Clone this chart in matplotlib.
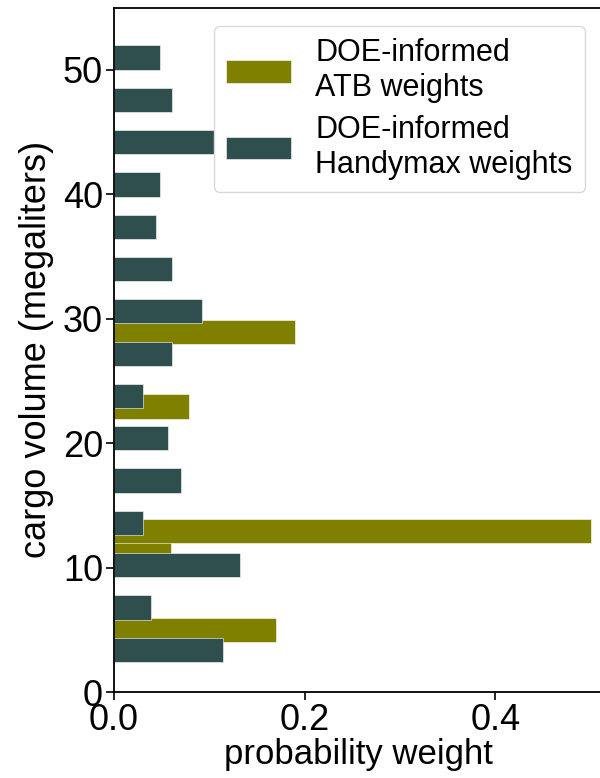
import matplotlib.pyplot as plt

plt.rcParams['font.family'] = ['Liberation Sans', 'DejaVu Sans']

# Handymax weights, one bin every 3.4 megaliters
handymax_volume = [3.4, 6.8, 10.2, 13.6, 17.0, 20.4, 23.8, 27.2,
                   30.6, 34.0, 37.4, 40.8, 44.2, 47.6, 51.0]
handymax_weight = [0.114, 0.039, 0.132, 0.030, 0.070, 0.057, 0.030, 0.061,
                   0.092, 0.061, 0.044, 0.048, 0.106, 0.061, 0.048]

# ATB weights
atb_volume = [5.0, 11.05, 12.95, 22.95, 28.95]
atb_weight = [0.17, 0.06, 0.50, 0.079, 0.19]

fig = plt.figure(figsize=(6.0, 7.78), dpi=100)
ax = fig.add_axes([0.19, 0.1105, 0.815, 0.8795])

ax.barh(atb_volume, atb_weight, height=1.95, color='#808000',
        edgecolor='white', linewidth=0.4, label='DOE-informed\nATB weights')
ax.barh(handymax_volume, handymax_weight, height=1.95, color='#2F4F4F',
        edgecolor='white', linewidth=0.4, label='DOE-informed\nHandymax weights')

ax.set_xlim(0, 0.513)
ax.set_ylim(0, 55)
ax.set_xticks([0.0, 0.2, 0.4])
ax.set_yticks([0, 10, 20, 30, 40, 50])
ax.tick_params(labelsize=26, length=6, width=1.2, pad=2)
for side in ['left', 'bottom', 'top', 'right']:
    ax.spines[side].set_linewidth(1.3)

ax.set_xlabel('probability weight', fontsize=25, labelpad=0)
ax.set_ylabel('cargo volume (megaliters)', fontsize=26, labelpad=6)

leg = ax.legend(loc='upper right', fontsize=22, handlelength=2.1,
                handleheight=0.75, handletextpad=0.8, borderaxespad=0.6,
                labelspacing=0.4, borderpad=0.4,
                framealpha=1.0, fancybox=True)
leg.get_frame().set_edgecolor('#d9d9d9')

fig.savefig('out.png', dpi=100)
